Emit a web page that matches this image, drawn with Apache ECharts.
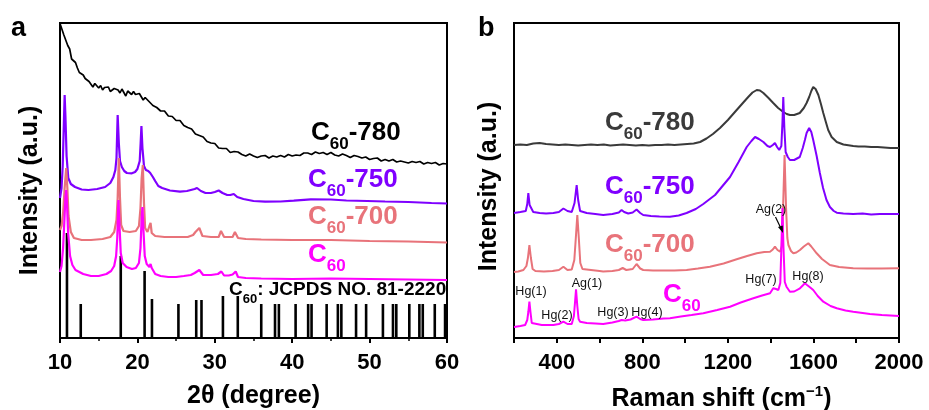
<!DOCTYPE html>
<html><head><meta charset="utf-8">
<script src="https://cdn.jsdelivr.net/npm/echarts@6/dist/echarts.min.js"></script>
<style>html,body{margin:0;padding:0;background:#fff}#c{width:929px;height:410px}</style>
</head><body><div id="c"></div>
<script>
// ---------- Panel a: XRD (2θ in degree, intensity in arbitrary units) ----------
const xrd780 = [[10.02,314],[10.25,312],[10.5,303],[10.75,301.5],[11,292.5],[11.25,289],[11.5,279],[11.75,278.5],[12,275.5],[12.25,270],[12.5,265.5],[12.75,267.5],[13,263],[13.25,259.5],[13.5,261.5],[13.75,256.5],[14,257],[14.25,251],[14.5,254.5],[14.75,252.5],[15,250],[15.25,252.5],[15.5,248],[15.75,250.5],[16,248.5],[16.25,251],[16.5,246.5],[16.75,245],[17,249.5],[17.25,247.5],[17.5,248],[17.75,245],[18,249],[18.25,245.5],[18.5,242],[18.75,247],[19,245.5],[19.25,243.5],[19.5,246.5],[19.75,243.5],[20,241.5],[20.25,244.5],[20.5,243],[20.75,238],[21,240.5],[21.25,241],[21.5,236.5],[21.75,237.5],[22,232.5],[22.25,234.5],[22.5,230.5],[22.75,231.5],[23,227],[23.25,225],[23.5,227],[23.75,225],[24,222],[24.5,221.5],[25,217.5],[25.5,217.5],[26,212.5],[26.5,210.5],[27,209],[27.5,204],[28,202.5],[28.5,201],[29,196.5],[29.5,195],[30,194.5],[30.5,190],[31,189.5],[31.5,189.5],[32,185.5],[32.5,186.5],[33,186],[33.5,183.5],[34,182],[34.5,184],[35,182],[35.5,180.5],[36,182],[36.5,182.5],[37,180],[37.5,182],[38,181],[38.5,182.5],[39,181],[39.5,183.5],[40,182],[40.5,183],[41,182.5],[41.5,185],[42,185],[42.5,183.5],[43,186],[43.5,184.5],[44,185.5],[44.5,183.5],[45,185.5],[45.5,183],[46,182],[46.5,184],[47,182.5],[47.5,180.5],[48,182.5],[48.5,181.5],[49,180],[49.5,181],[50,178.5],[50.5,179.5],[51,180],[51.5,177],[52,178.5],[52.5,177],[53,178.5],[53.5,176],[54,177],[54.5,176],[55,175],[55.5,176.5],[56,175.5],[56.5,176.5],[57,174],[57.5,175.5],[58,174.5],[58.5,175.5],[59,173],[59.5,174.5],[60,174]];
const xrd750 = [[10,140],[10.2,150],[10.35,172],[10.5,215],[10.6,243],[10.7,222],[10.85,182],[11.07,160],[11.4,154],[11.94,151],[12.8,148.5],[13.67,148],[14.8,149],[15.83,151],[16.5,155],[16.9,161],[17.15,168],[17.3,180],[17.45,223],[17.6,195],[17.75,177],[17.99,171],[18.3,167],[18.64,165],[19.29,164.7],[19.7,166],[20,169],[20.3,177],[20.42,195],[20.52,212],[20.65,190],[20.85,172],[21.1,168],[21.4,167],[21.66,165],[22,161],[22.3,157],[22.7,152],[23.2,150],[24.2,147.5],[25.5,146.3],[26.4,147],[26.9,148],[27.4,149],[27.7,150],[28.2,147],[28.8,145],[29.5,145],[30,146],[30.5,147.5],[31,145],[31.6,143],[32,143],[32.45,144],[32.9,141],[33.7,139],[35,137],[36.5,136.3],[38.5,136.5],[40.2,137.3],[42.4,138.7],[45,138.5],[47,137.5],[49.7,137],[52,136.5],[55,136],[58,135],[60,134.5]];
const xrd700 = [[10,108],[10.2,112],[10.4,125],[10.6,150],[10.8,170],[10.95,150],[11.1,122],[11.4,106],[11.8,100],[12.8,98],[14,98],[15.5,99],[16.5,101],[17,106],[17.3,118],[17.45,140],[17.6,180],[17.75,140],[17.9,113],[18.2,107],[19,106],[19.8,107],[20.2,112],[20.4,130],[20.55,160],[20.7,173],[20.85,135],[21,110],[21.3,106],[21.55,112],[21.7,115],[21.85,105],[22.3,102],[23.5,101],[25,101],[26.5,101],[27.2,103],[27.5,106],[27.7,104],[28,110],[28.2,108],[28.4,102],[29.5,101],[30.5,101],[30.8,107],[31,104],[31.2,101],[32.3,101],[32.6,106],[32.8,104],[33,100],[34,99],[36,98.5],[40,98],[45,98],[50,97],[55,96.5],[60,95.5]];
const xrdC60 = [[10,66],[10.2,72],[10.4,90],[10.55,115],[10.7,140],[10.8,148],[10.9,135],[11.05,105],[11.3,82],[11.6,73],[12,68],[13,64],[14,62],[15,62],[16,64],[16.6,67],[17,72],[17.25,82],[17.4,100],[17.55,138],[17.7,110],[17.85,85],[18.1,75],[18.6,71],[19.3,69],[19.8,70],[20.2,75],[20.4,90],[20.55,120],[20.65,131],[20.8,105],[20.95,82],[21.2,74],[21.55,71],[21.7,74],[21.85,70],[22.3,64],[23,62],[24,61],[25,61],[26,62],[26.9,63],[27.4,65],[27.6,64],[28,68],[28.2,67],[28.5,63],[29.5,63],[30.4,64],[30.85,66.5],[31.2,62.5],[31.8,62.5],[32.3,63.5],[32.7,66.5],[33,61],[34,60],[36,59.5],[40,59],[45,59.5],[50,59],[55,58.5],[60,58]];
const jcpdsPos = [10.9,12.68,17.85,20.93,21.88,25.3,27.6,28.28,31.05,32.97,36.0,37.78,38.28,40.44,42.06,42.5,44.45,45.9,46.35,48.25,49.55,51.72,53.02,53.45,55.13,56.43,56.87,58.42,59.75,59.92];
const jcpdsHeight = [105,34,82,67,39,34,38,38,42,42,34,34,34,34,34,34,34,34,34,34,34,34,34,34,34,34,34,34,34,34];
const xrdTicks = [10,20,30,40,50,60];

// ---------- Panel b: Raman (shift in cm-1, intensity in arbitrary units) ----------
const raman780 = [[200,193],[230,193.5],[260,193],[290,194.5],[320,195],[350,194],[380,193.5],[410,193],[440,193.5],[470,193],[500,192.5],[530,193],[560,193.5],[590,193],[620,193.5],[650,192.5],[680,193],[710,193.5],[740,193],[770,192.5],[800,193],[830,192.5],[860,193],[890,193],[920,193.5],[950,193],[980,193.5],[1010,194],[1040,194.5],[1070,196],[1100,199.5],[1130,204],[1163,210],[1200,218],[1241,228],[1270,235],[1295,241],[1315,245.5],[1335,248],[1350,247.5],[1366,245],[1390,240],[1412,235],[1435,230],[1459,226],[1475,224],[1490,223],[1510,223],[1536,225],[1555,230],[1568,235],[1580,241],[1590,247],[1599,251],[1610,249],[1623,243],[1635,234],[1646,225],[1658,216],[1669,208],[1685,201],[1709,196],[1740,193.5],[1786,192],[1810,191.5],[1840,191.5],[1870,191],[1900,191],[1930,190.5],[1960,190],[2000,190]];
const raman750 = [[200,125],[230,126],[255,127],[262,134],[267,145],[273,133],[290,126],[320,125],[350,124.5],[384,125],[410,126],[431,129.5],[450,127],[470,126],[483,135],[493,153],[500,138],[509,127],[540,125],[580,124],[617,123],[660,124],[690,125.5],[703,128],[715,126],[734,124.5],[755,125.5],[773,128.5],[790,125],[804,123],[840,122],[880,121.5],[929,121.3],[970,122.5],[1007,125],[1050,129],[1085,134],[1140,143],[1175,152],[1210,161],[1250,176],[1288,191],[1310,197],[1327,201],[1345,199],[1366,196],[1385,192],[1397,191],[1410,193],[1420,195],[1430,191],[1440,188],[1450,192],[1455,215],[1459,241],[1464,210],[1470,186],[1480,181],[1490,178],[1510,178],[1536,181],[1550,190],[1560,198],[1568,205],[1580,210],[1590,206],[1599,198],[1615,182],[1630,165],[1645,150],[1661,138],[1677,131],[1695,127],[1709,125.3],[1740,124.5],[1786,124],[1830,124.5],[1870,123.5],[1910,124],[1950,124],[2000,124]];
const raman700 = [[200,66],[220,66.5],[244,68],[258,72],[265,80],[272,93],[279,80],[287,69],[300,67],[340,66.5],[380,67],[410,68],[431,71.3],[450,68],[470,68.5],[482,78],[489,100],[496,123],[503,100],[510,75],[520,69],[560,68],[600,67],[617,66.5],[660,67],[690,68],[708,70],[725,68],[755,69],[773,74],[790,69.5],[804,68],[850,67.5],[900,67.5],[950,67.5],[1007,68],[1060,69.5],[1116,71.3],[1180,74.5],[1241,78.7],[1290,82],[1335,84.7],[1370,86],[1397,86.3],[1410,88.5],[1420,91.3],[1432,88],[1444,86.3],[1452,92],[1458,130],[1465,183],[1472,130],[1478,100],[1483,93],[1495,87],[1506,84.7],[1520,85.5],[1537,88],[1555,91.5],[1576,94.7],[1590,91.5],[1615,84.7],[1640,79],[1677,73],[1720,71],[1786,69.7],[1850,69.5],[1920,69.5],[2000,69.7]];
const ramanC60 = [[200,11],[230,12],[252,13],[262,18],[267,26],[272,36.3],[277,26],[283,15],[290,13],[330,13],[384,13],[410,14],[431,16.3],[450,14],[470,14],[480,22],[485,35],[490,48.7],[496,32],[502,19],[509,16.3],[540,15],[580,14.5],[617,14],[660,15.5],[690,17],[703,18],[720,17.5],[745,18.5],[773,21.3],[790,19],[804,18],[850,18.5],[900,19.5],[929,19.7],[980,21.5],[1030,23],[1085,24.7],[1150,28],[1210,31.3],[1260,35.5],[1319,39.7],[1360,42.5],[1397,44.7],[1412,49.7],[1425,49],[1436,48],[1445,55],[1450,90],[1455,130],[1460,90],[1466,56],[1474,51.3],[1490,46.3],[1510,46.5],[1537,49.7],[1550,52.5],[1560,54.7],[1570,53],[1585,50.5],[1599,48],[1620,42],[1646,36.3],[1680,32],[1709,29.7],[1750,27.5],[1786,26.3],[1830,25],[1864,24],[1920,23],[2000,22]];
const ramanLabelTicks = [400,800,1200,1600,2000];
const modeLabels = ['Hg(1)','Hg(2)','Ag(1)','Hg(3)','Hg(4)','Hg(7)','Hg(8)','Ag(2)'];

// ---------- drawing ----------
const FONT = 'Arial, "Liberation Sans", Helvetica, sans-serif';
const C = {k:'#000000', g:'#3a3a3a', p:'#7f00ff', s:'#e8737a', m:'#ff00ff'};

function sampleLabel(x, y, suffix, color, big, small, lh) {
  big = big || 26; small = small || 17; lh = lh || 40;
  return {
    type:'text', x:x, y:y, z:100,
    style:{
      text:'{m|C}{s|60}{m|' + suffix + '}',
      align:'left', verticalAlign:'top',
      rich:{
        m:{fontSize:big, fontWeight:'bold', fontFamily:FONT, fill:color, lineHeight:lh},
        s:{fontSize:small, fontWeight:'bold', fontFamily:FONT, fill:color, lineHeight:small, verticalAlign:'bottom'}
      }
    }
  };
}
function modeText(t, cx, cy) {
  return {type:'text', x:cx, y:cy, z:100, style:{text:t, align:'center', verticalAlign:'middle', fontSize:12.5, fontFamily:FONT, fill:'#111'}};
}

const axisLineStyle = {color:'#000', width:2};
function lineSeries(data, color, xi, width) {
  return {type:'line', xAxisIndex:xi, yAxisIndex:xi, data:data, showSymbol:false, symbol:'none',
          lineStyle:{color:color, width:width}, itemStyle:{color:color}, animation:false, clip:true};
}

const chart = echarts.init(document.getElementById('c'));
chart.setOption({
  animation:false,
  backgroundColor:'#fff',
  grid:[
    {left:60, top:23, width:387, height:315, show:true, borderColor:'#000', borderWidth:2, backgroundColor:'transparent', containLabel:false, outerBoundsMode:'none'},
    {left:514, top:23, width:385, height:315, show:true, borderColor:'#000', borderWidth:2, backgroundColor:'transparent', containLabel:false, outerBoundsMode:'none'}
  ],
  xAxis:[
    {type:'value', gridIndex:0, min:10, max:60, interval:10,
     name:'2θ (degree)', nameLocation:'middle', nameGap:46,
     nameTextStyle:{fontSize:25, fontWeight:'bold', fontFamily:FONT, color:'#000'},
     axisLine:{show:true, lineStyle:axisLineStyle},
     axisTick:{show:true, inside:false, length:5, lineStyle:{color:'#000', width:2}},
     minorTick:{show:true, splitNumber:2, length:3, lineStyle:{color:'#000', width:1.5}},
     splitLine:{show:false}, minorSplitLine:{show:false},
     axisLabel:{margin:14, fontSize:22, fontWeight:'bold', fontFamily:FONT, color:'#000',
       formatter:function(v){return xrdTicks.indexOf(v) >= 0 ? String(v) : '';}}},
    {type:'value', gridIndex:1, min:200, max:2000, interval:200,
     name:'Raman shift (cm{sup|−1})', nameLocation:'middle', nameGap:46,
     nameTextStyle:{fontSize:25, fontWeight:'bold', fontFamily:FONT, color:'#000', padding:[0,0,0,30], lineHeight:30,
       rich:{sup:{fontSize:15, fontWeight:'bold', fontFamily:FONT, color:'#000', lineHeight:15, verticalAlign:'top'}}},
     axisLine:{show:true, lineStyle:axisLineStyle},
     axisTick:{show:true, inside:false, length:5, lineStyle:{color:'#000', width:2}},
     splitLine:{show:false},
     axisLabel:{margin:14, fontSize:22, fontWeight:'bold', fontFamily:FONT, color:'#000', showMinLabel:true, showMaxLabel:true,
       formatter:function(v){return ramanLabelTicks.indexOf(v) >= 0 ? String(v) : '';}}}
  ],
  yAxis:[
    {type:'value', gridIndex:0, min:0, max:315,
     name:'Intensity (a.u.)', nameLocation:'middle', nameGap:17,
     nameTextStyle:{fontSize:25, fontWeight:'bold', fontFamily:FONT, color:'#000', padding:[0,20,0,0]},
     axisLine:{show:true, lineStyle:axisLineStyle}, axisTick:{show:false}, axisLabel:{show:false}, splitLine:{show:false}},
    {type:'value', gridIndex:1, min:0, max:315,
     name:'Intensity (a.u.)', nameLocation:'middle', nameGap:12,
     nameTextStyle:{fontSize:25, fontWeight:'bold', fontFamily:FONT, color:'#000', padding:[0,12,0,0]},
     axisLine:{show:true, lineStyle:axisLineStyle}, axisTick:{show:false}, axisLabel:{show:false}, splitLine:{show:false}}
  ],
  series:[
    {type:'bar', xAxisIndex:0, yAxisIndex:0, barWidth:2.6, animation:false,
     itemStyle:{color:'#000'}, data:jcpdsPos.map(function(p,i){return [p, jcpdsHeight[i]];})},
    lineSeries(xrd780, C.k, 0, 1.7),
    lineSeries(xrd750, C.p, 0, 2.2),
    lineSeries(xrd700, C.s, 0, 2.2),
    lineSeries(xrdC60, C.m, 0, 2.2),
    lineSeries(raman780, C.g, 1, 2),
    lineSeries(raman750, C.p, 1, 2),
    lineSeries(raman700, C.s, 1, 2),
    lineSeries(ramanC60, C.m, 1, 2)
  ],
  graphic:[
    {type:'text', x:11, y:15, z:100, style:{text:'a', fontSize:27, fontWeight:'bold', fontFamily:FONT, fill:'#000'}},
    {type:'text', x:478, y:15, z:100, style:{text:'b', fontSize:27, fontWeight:'bold', fontFamily:FONT, fill:'#000'}},
    sampleLabel(311, 112.5, '-780', C.k),
    sampleLabel(308, 159.5, '-750', C.p),
    sampleLabel(308, 196.5, '-700', C.s),
    sampleLabel(308, 234.5, '', C.m),
    {type:'text', x:229, y:274, z:100, style:{text:'{m|C}{s|60}{m|: JCPDS NO. 81-2220}', align:'left', verticalAlign:'top',
      rich:{m:{fontSize:19, fontWeight:'bold', fontFamily:FONT, fill:'#000', lineHeight:32},
            s:{fontSize:13, fontWeight:'bold', fontFamily:FONT, fill:'#000', lineHeight:13, verticalAlign:'bottom'}}}},
    sampleLabel(605, 102.5, '-780', C.g),
    sampleLabel(605, 166.5, '-750', C.p),
    sampleLabel(605, 224.5, '-700', C.s),
    sampleLabel(663, 274.5, '', C.m),
    modeText(modeLabels[0], 531, 292),
    modeText(modeLabels[1], 557, 316),
    modeText(modeLabels[2], 587, 284),
    modeText(modeLabels[3], 613, 313),
    modeText(modeLabels[4], 647, 313),
    modeText(modeLabels[5], 761, 280),
    modeText(modeLabels[6], 808, 277),
    modeText(modeLabels[7], 771, 210),
    {type:'line', z:100, shape:{x1:775.5, y1:217, x2:781, y2:228.5}, style:{stroke:'#000', lineWidth:1.2}},
    {type:'polygon', z:100, shape:{points:[[783,233],[778,227],[782.8,225.6]]}, style:{fill:'#000'}}
  ]
});
</script>
</body></html>
